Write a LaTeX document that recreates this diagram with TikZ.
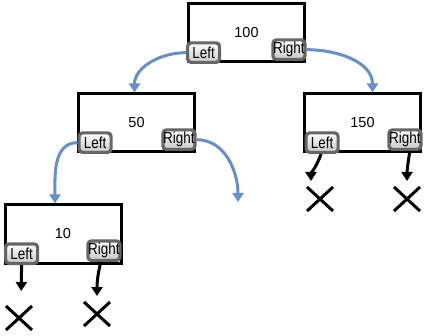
\documentclass[tikz,border=0pt]{standalone}
\usepackage{fontspec}
\setmainfont{Liberation Sans}
\newfontfamily\btnfont[FakeStretch=0.84]{Liberation Sans}
\usetikzlibrary{arrows.meta, positioning, shapes.misc}
\definecolor{linkblue}{HTML}{6A8FC4}
\definecolor{btnrim}{HTML}{666666}

\begin{document}
\begin{tikzpicture}[x=1pt, y=1pt, >={Triangle[length=9pt, width=11pt]}, record/.style={draw, line width=3pt, minimum width=116pt, minimum height=58pt, inner sep=0pt, font=\fontsize{14.5}{16}\selectfont}, btn/.style={draw=btnrim, line width=3.2pt, rounded corners=3.5pt, top color=white, bottom color=black!22, minimum width=32pt, minimum height=19.5pt, inner sep=0pt, font=\btnfont\fontsize{16}{17}\selectfont}, link/.style={->, linkblue, line width=3pt}, nil/.style={->, line width=3pt}, nullmark/.style={cross out, draw, line width=3pt, minimum width=23pt, minimum height=21pt, inner sep=0pt}]
		\useasboundingbox (0,0) rectangle (427,-336);
		% records
		\node[record] (n100) at (246.5,-33) {100};
		\node[record] (n50) at (136.5,-123) {50};
		\node[record] (n150) at (362.5,-123) {150};
		\node[record] (n10) at (63,-234) {10};
		% left / right fields
		\node[btn, anchor=south west] (n100l) at ([xshift=-1pt, yshift=-0.5pt]n100.south west) {Left};
		\node[btn, anchor=south east] (n100r) at ([xshift=0.5pt, yshift=2.5pt]n100.south east) {Right};
		\node[btn, anchor=south west] (n50l) at ([xshift=0.5pt, yshift=-0.5pt]n50.south west) {Left};
		\node[btn, anchor=south east] (n50r) at ([xshift=0.5pt, yshift=2.5pt]n50.south east) {Right};
		\node[btn, anchor=south west] (n150l) at ([xshift=1.5pt, yshift=-0.5pt]n150.south west) {Left};
		\node[btn, anchor=south east] (n150r) at ([xshift=0.5pt, yshift=2.5pt]n150.south east) {Right};
		\node[btn, anchor=south west] (n10l) at ([xshift=0.5pt, yshift=-0.5pt]n10.south west) {Left};
		\node[btn, anchor=south east] (n10r) at ([xshift=-1pt, yshift=2.5pt]n10.south east) {Right};
		% null marks
		\node[nullmark] (x10l) at (19,-318) {};
		\node[nullmark] (x10r) at (97,-314) {};
		\node[nullmark] (x150l) at (320,-199) {};
		\node[nullmark] (x150r) at (407,-199) {};
		\coordinate (n50free) at (238,-202);
		% child links
		\draw[link] (n100l.west) to[out=180, in=90] ([xshift=-2pt]n50.north);
		\draw[link] (n100r.east) to[out=0, in=90] ([xshift=10pt]n150.north);
		\draw[link] (n50l.west) to[out=180, in=90] ([xshift=-8pt]n10.north);
		\draw[link] (n50r.east) to[out=0, in=90] (n50free);
		% empty links
		\draw[nil, shorten >=15pt] (n10l.south) -- ([xshift=2pt]x10l.north);
		\draw[nil, shorten >=6pt] ([xshift=-3pt]n10r.south) to[out=255, in=90] (x10r.north);
		\draw[nil, shorten >=6pt] ([xshift=-1pt]n150l.south) to[out=250, in=90] ([xshift=-9pt]x150l.north);
		\draw[nil, shorten >=6pt] ([xshift=5pt]n150r.south) to[out=260, in=90] (x150r.north);
\end{tikzpicture}
\end{document}
